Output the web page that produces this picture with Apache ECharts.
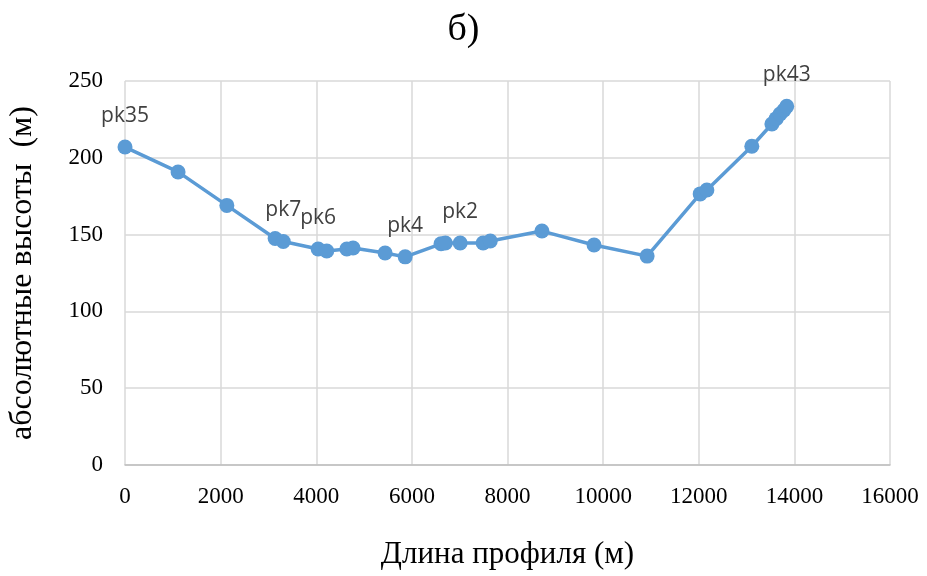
<!DOCTYPE html>
<html>
<head>
<meta charset="utf-8">
<script src="https://cdn.jsdelivr.net/npm/echarts@6/dist/echarts.min.js"></script>
<style>
	html, body { margin: 0; padding: 0; background: #fff; }
	#chart { width: 927px; height: 576px; }
</style>
</head>
<body>
<div id="chart"></div>
<script>
// длина профиля (м) и абсолютные высоты (м)
var distances = [0, 1110, 2130, 3140, 3310, 4040, 4220, 4640, 4770, 5440, 5860,
	6610, 6700, 7010, 7490, 7640, 8720, 9810, 10920, 12030, 12170, 13110,
	13530, 13620, 13700, 13780, 13840];
var heights = [207, 190.8, 169, 147.5, 145.5, 140.6, 139.3, 140.6, 141.3, 138, 135.5,
	144, 144.5, 144.5, 144.5, 145.8, 152.3, 143.2, 136, 176.5, 179, 207.5,
	222, 225.5, 228.5, 231, 233.5];
var pickets = {0: 'pk35', 4: 'pk7', 5: 'pk6', 10: 'pk4', 13: 'pk2', 26: 'pk43'};
var xTicks = [0, 2000, 4000, 6000, 8000, 10000, 12000, 14000, 16000];
var yTicks = [0, 50, 100, 150, 200, 250];

var points = distances.map(function (d, i) {
	var p = {value: [d, heights[i]]};
	if (pickets[i]) {
		p.label = {show: true, formatter: pickets[i]};
	}
	return p;
});

var serif = '"Liberation Serif", "DejaVu Serif", serif';

var option = {
	animation: false,
	title: {
		text: 'б)',
		left: 'center',
		top: 6,
		textStyle: {fontFamily: serif, fontSize: 38, fontWeight: 'normal', color: '#000'}
	},
	grid: {left: 125, right: 37, top: 81, bottom: 111, outerBoundsMode: 'none', containLabel: false},
	xAxis: {
		type: 'value',
		min: xTicks[0],
		max: xTicks[xTicks.length - 1],
		interval: 2000,
		name: 'Длина профиля (м)',
		nameLocation: 'middle',
		nameGap: 74,
		nameTextStyle: {fontFamily: serif, fontSize: 31, color: '#000'},
		axisLine: {show: true, lineStyle: {color: '#bfbfbf', width: 1.5}},
		axisTick: {show: false},
		axisLabel: {
			fontFamily: serif, fontSize: 23, color: '#000', margin: 20,
			formatter: function (v) { return String(v); }
		},
		splitLine: {show: true, lineStyle: {color: '#d9d9d9', width: 1.5}}
	},
	yAxis: {
		type: 'value',
		min: yTicks[0],
		max: yTicks[yTicks.length - 1],
		interval: 50,
		name: 'абсолютные высоты  (м)',
		nameLocation: 'middle',
		nameGap: 86,
		nameTextStyle: {fontFamily: serif, fontSize: 32, color: '#000'},
		axisLine: {show: false},
		axisTick: {show: false},
		axisLabel: {fontFamily: serif, fontSize: 23, color: '#000', margin: 22},
		splitLine: {show: true, lineStyle: {color: '#d9d9d9', width: 1.5}}
	},
	series: [{
		type: 'line',
		data: points,
		symbol: 'circle',
		symbolSize: 15,
		lineStyle: {color: '#5b9bd5', width: 3.5},
		itemStyle: {color: '#5b9bd5'},
		label: {
			show: false,
			position: 'top',
			distance: 13,
			fontFamily: '"Open Sans", "Noto Sans", sans-serif',
			fontSize: 21,
			color: '#404040'
		}
	}]
};

echarts.init(document.getElementById('chart')).setOption(option);
</script>
</body>
</html>
